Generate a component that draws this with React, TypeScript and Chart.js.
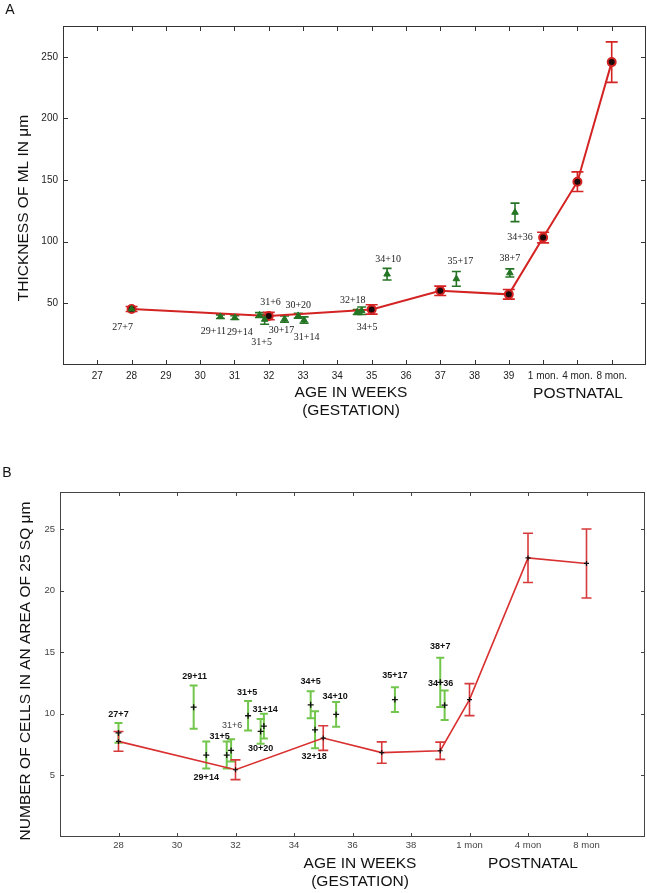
import React, { useEffect, useRef } from 'react';
import { Chart, registerables } from 'chart.js';

Chart.register(...registerables);

// ================= DATA =================
// x values are gestational weeks; postnatal ages sit on the same axis after week 39.

// ---- Panel A: thickness of ML (µm) ----
const aTickValues = [27, 28, 29, 30, 31, 32, 33, 34, 35, 36, 37, 38, 39, 40, 41, 42];
const aTickLabels = ['27', '28', '29', '30', '31', '32', '33', '34', '35', '36', '37', '38', '39', '1 mon.', '4 mon.', '8 mon.'];
const aYTicks = [50, 100, 150, 200, 250];

const aMeanX = [28, 32, 35, 37, 39, 40, 41, 42];
const aMeanY = [45.4, 39.7, 45.1, 60.2, 57.3, 103.4, 148.7, 245.7];
const aMeanErr = [2, 3, 3.8, 3.8, 3.9, 4.3, 8, 16.4];

const aCaseX = [28, 30.59, 31.01, 31.73, 31.88, 32.46, 32.86, 33.03, 34.58, 34.71, 35.45, 37.47, 39.03, 39.18];
const aCaseY = [45.4, 39.2, 38.4, 40.5, 37, 37.3, 40, 36.5, 43, 44, 73.7, 69.9, 74.7, 123.8];
const aCaseErr = [1.5, 1.5, 1.5, 2, 4, 2.5, 2, 2.5, 2, 3, 4.7, 6, 3.3, 7.5];
const aCaseLabels = ['27+7', '29+11', '29+14', '31+6', '31+5', '30+17', '30+20', '31+14', '32+18', '34+5', '34+10', '35+17', '38+7', '34+36'];

// ---- Panel B: number of cells in 25 sq µm ----
const bTickValues = [28, 30, 32, 34, 36, 38, 40, 42, 44];
const bTickLabels = ['28', '30', '32', '34', '36', '38', '1 mon', '4 mon', '8 mon'];
const bYTicks = [5, 10, 15, 20, 25];

const bMeanX = [28, 32, 35, 37, 39, 40, 42, 44];
const bMeanY = [7.76, 5.46, 8.03, 6.85, 7.0, 11.15, 22.65, 22.2];
const bMeanErr = [0.8, 0.8, 1.0, 0.87, 0.7, 1.3, 2.0, 2.8];

const bCaseX = [28, 30.57, 31.0, 31.7, 31.85, 32.43, 32.86, 32.97, 34.57, 34.72, 35.44, 37.45, 39.0, 39.15];
const bCaseY = [8.45, 10.54, 6.65, 6.65, 7.03, 9.84, 8.57, 9.0, 10.73, 8.7, 9.95, 11.15, 12.55, 10.7];
const bCaseErr = [0.8, 1.75, 1.1, 1.1, 0.9, 1.2, 1.0, 1.0, 1.1, 1.5, 1.0, 1.0, 2.0, 1.2];
const bCaseLabels = ['27+7', '29+11', '29+14', '31+5', '31+6', '31+5', '30+20', '31+14', '34+5', '32+18', '34+10', '35+17', '38+7', '34+36'];

// ================= STYLE / LAYOUT =================
const SANS = '"Liberation Sans", Arial, sans-serif';
const SERIF = '"Liberation Serif", "Times New Roman", serif';

// label offsets in pixels from their point (dx, dy)
const aLabelOffsets: [number, number][] = [
  [-9, 18], [-7, 15], [5, 15], [11, -13], [-3, 23], [-3, 11], [0, -10], [2.5, 17],
  [-4.5, -12], [5.4, 17], [1, -15], [4, -17], [0, -15], [5, 25],
];
const bLabelOffsets: [number, number][] = [
  [0, -18], [1, -31], [0, 22], [-7, -19], [1, -25], [-1, -23], [0, 17], [1.3, -17],
  [0, -23], [-1, 27], [-1, -18], [0, -24], [0, -35.5], [-4, -22],
];

type TextItem = { text: string; x: number; y: number; font: string; color: string; rotate?: boolean; align?: CanvasTextAlign };

type DecoCfg = {
  xTicks: number[];
  yTicks: number[];
  tickLen: number;
  frameColor: string;
  labelDataset: number;
  labels: string[];
  offsets: [number, number][];
  labelFont: (i: number) => string;
  labelColor: (i: number) => string;
  texts: TextItem[];
};

function makeDeco(cfg: DecoCfg) {
  return {
    id: 'deco',
    beforeDatasetsDraw(chart: any) {
      const ctx: CanvasRenderingContext2D = chart.ctx;
      const xs = chart.scales.x;
      const ys = chart.scales.y;
      chart.data.datasets.forEach((ds: any) => {
        if (!ds.errorBars) return;
        ctx.save();
        ctx.strokeStyle = ds.errColor;
        ctx.lineWidth = ds.errWidth;
        ds.data.forEach((p: any, i: number) => {
          const e = ds.errorBars[i];
          const px = xs.getPixelForValue(p.x);
          const y1 = ys.getPixelForValue(p.y + e);
          const y2 = ys.getPixelForValue(p.y - e);
          const c = ds.capHalf;
          ctx.beginPath();
          ctx.moveTo(px, y1);
          ctx.lineTo(px, y2);
          ctx.moveTo(px - c, y1);
          ctx.lineTo(px + c, y1);
          ctx.moveTo(px - c, y2);
          ctx.lineTo(px + c, y2);
          ctx.stroke();
        });
        ctx.restore();
      });
    },
    afterDraw(chart: any) {
      const ctx: CanvasRenderingContext2D = chart.ctx;
      const xs = chart.scales.x;
      const ys = chart.scales.y;
      const a = chart.chartArea;
      ctx.save();
      // frame
      ctx.strokeStyle = cfg.frameColor;
      ctx.lineWidth = 1;
      ctx.strokeRect(Math.round(a.left) + 0.5, Math.round(a.top) + 0.5, Math.round(a.right - a.left) - 1, Math.round(a.bottom - a.top) - 1);
      // inward tick marks
      ctx.beginPath();
      cfg.xTicks.forEach((v) => {
        const px = Math.round(xs.getPixelForValue(v)) + 0.5;
        ctx.moveTo(px, a.bottom);
        ctx.lineTo(px, a.bottom - cfg.tickLen);
        ctx.moveTo(px, a.top);
        ctx.lineTo(px, a.top + cfg.tickLen);
      });
      cfg.yTicks.forEach((v) => {
        const py = Math.round(ys.getPixelForValue(v)) + 0.5;
        ctx.moveTo(a.left, py);
        ctx.lineTo(a.left + cfg.tickLen, py);
        ctx.moveTo(a.right, py);
        ctx.lineTo(a.right - cfg.tickLen, py);
      });
      ctx.stroke();
      // point labels
      const meta = chart.getDatasetMeta(cfg.labelDataset);
      ctx.textAlign = 'center';
      ctx.textBaseline = 'middle';
      meta.data.forEach((el: any, i: number) => {
        const [dx, dy] = cfg.offsets[i];
        ctx.font = cfg.labelFont(i);
        ctx.fillStyle = cfg.labelColor(i);
        ctx.fillText(cfg.labels[i], el.x + dx, el.y + dy);
      });
      // titles
      cfg.texts.forEach((t) => {
        ctx.save();
        ctx.font = t.font;
        ctx.fillStyle = t.color;
        ctx.textAlign = t.align || 'center';
        ctx.textBaseline = 'middle';
        ctx.translate(t.x, t.y);
        if (t.rotate) ctx.rotate(-Math.PI / 2);
        ctx.fillText(t.text, 0, 0);
        ctx.restore();
      });
      ctx.restore();
    },
  };
}

function pts(xs: number[], ys: number[]) {
  return xs.map((x, i) => ({ x, y: ys[i] }));
}

const TITLE_FONT = `15.5px ${SANS}`;

function fitX(h: number) {
  return (s: any) => {
    s.height = h;
    s.paddingLeft = 0;
    s.paddingRight = 0;
  };
}
function fitY(w: number) {
  return (s: any) => {
    s.width = w;
    s.paddingTop = 0;
    s.paddingBottom = 0;
  };
}

function configA(): any {
  const deco = makeDeco({
    xTicks: aTickValues,
    yTicks: aYTicks,
    tickLen: 5,
    frameColor: '#333',
    labelDataset: 0,
    labels: aCaseLabels,
    offsets: aLabelOffsets,
    labelFont: () => `10px ${SERIF}`,
    labelColor: () => '#222',
    texts: [
      { text: 'A', x: 10, y: 10, font: `14px ${SANS}`, color: '#111' },
      { text: 'THICKNESS OF ML IN \u03bcm', x: 24, y: 208, font: TITLE_FONT, color: '#111', rotate: true },
      { text: 'AGE IN WEEKS', x: 351, y: 393, font: TITLE_FONT, color: '#111' },
      { text: '(GESTATION)', x: 351, y: 411, font: TITLE_FONT, color: '#111' },
      { text: 'POSTNATAL', x: 578, y: 394, font: TITLE_FONT, color: '#111' },
    ],
  });
  return {
    type: 'scatter',
    data: {
      datasets: [
        {
          label: 'cases',
          data: pts(aCaseX, aCaseY),
          showLine: false,
          pointStyle: 'triangle',
          pointRadius: 3.8,
          backgroundColor: '#237523',
          borderColor: '#237523',
          borderWidth: 1,
          errorBars: aCaseErr,
          errColor: '#267526',
          errWidth: 1.6,
          capHalf: 4.5,
        },
        {
          label: 'mean',
          data: pts(aMeanX, aMeanY),
          showLine: true,
          tension: 0,
          borderColor: '#d42323',
          borderWidth: 2,
          pointStyle: 'circle',
          pointRadius: 4,
          pointBackgroundColor: '#1a0a0a',
          pointBorderColor: '#d42323',
          pointBorderWidth: 2,
          errorBars: aMeanErr,
          errColor: '#d42323',
          errWidth: 1.6,
          capHalf: 6,
        },
      ],
    },
    options: {
      responsive: false,
      animation: false,
      layout: { autoPadding: false, padding: { top: 26, right: 1, left: 0, bottom: 0 } },
      plugins: { legend: { display: false }, tooltip: { enabled: false } },
      scales: {
        x: {
          type: 'linear',
          min: 26,
          max: 43,
          afterBuildTicks: (s: any) => { s.ticks = aTickValues.map((v) => ({ value: v })); },
          afterFit: fitX(75),
          grid: { display: false, drawTicks: false },
          border: { display: false },
          ticks: {
            autoSkip: false,
            maxRotation: 0,
            padding: 5,
            color: '#222',
            font: { family: SANS, size: 10 },
            callback: (v: number) => aTickLabels[aTickValues.indexOf(v)] ?? '',
          },
        },
        y: {
          type: 'linear',
          min: 0,
          max: 275,
          afterBuildTicks: (s: any) => { s.ticks = aYTicks.map((v) => ({ value: v })); },
          afterFit: fitY(63),
          grid: { display: false, drawTicks: false },
          border: { display: false },
          ticks: { padding: 5, color: '#222', font: { family: SANS, size: 10 } },
        },
      },
    },
    plugins: [deco],
  };
}

function configB(): any {
  const deco = makeDeco({
    xTicks: bTickValues,
    yTicks: bYTicks,
    tickLen: 4,
    frameColor: '#444',
    labelDataset: 0,
    labels: bCaseLabels,
    offsets: bLabelOffsets,
    labelFont: (i) => (bCaseLabels[i] === '31+6' ? `9px ${SANS}` : `bold 9px ${SANS}`),
    labelColor: (i) => (bCaseLabels[i] === '31+6' ? '#444' : '#111'),
    texts: [
      { text: 'B', x: 7, y: 33, font: `14px ${SANS}`, color: '#111' },
      { text: 'NUMBER OF CELLS IN AN AREA OF 25 SQ \u03bcm', x: 26, y: 231, font: TITLE_FONT, color: '#111', rotate: true },
      { text: 'AGE IN WEEKS', x: 360, y: 424, font: TITLE_FONT, color: '#111' },
      { text: '(GESTATION)', x: 360, y: 442, font: TITLE_FONT, color: '#111' },
      { text: 'POSTNATAL', x: 533, y: 424, font: TITLE_FONT, color: '#111' },
    ],
  });
  return {
    type: 'scatter',
    data: {
      datasets: [
        {
          label: 'cases',
          data: pts(bCaseX, bCaseY),
          showLine: false,
          pointStyle: 'cross',
          pointRadius: 3,
          borderColor: '#111',
          borderWidth: 1.3,
          errorBars: bCaseErr,
          errColor: '#72c64c',
          errWidth: 2,
          capHalf: 4,
        },
        {
          label: 'mean',
          data: pts(bMeanX, bMeanY),
          showLine: true,
          tension: 0,
          borderColor: '#d93030',
          borderWidth: 1.6,
          pointStyle: 'cross',
          pointRadius: 2.5,
          pointBorderColor: '#111',
          pointBorderWidth: 1.2,
          errorBars: bMeanErr,
          errColor: '#d63a3a',
          errWidth: 1.6,
          capHalf: 5,
        },
      ],
    },
    options: {
      responsive: false,
      animation: false,
      layout: { autoPadding: false, padding: { top: 52, right: 2, left: 0, bottom: 0 } },
      plugins: { legend: { display: false }, tooltip: { enabled: false } },
      scales: {
        x: {
          type: 'linear',
          min: 26,
          max: 46,
          afterBuildTicks: (s: any) => { s.ticks = bTickValues.map((v) => ({ value: v })); },
          afterFit: fitX(56),
          grid: { display: false, drawTicks: false },
          border: { display: false },
          ticks: {
            autoSkip: false,
            maxRotation: 0,
            padding: 3,
            color: '#444',
            font: { family: SANS, size: 9.5 },
            callback: (v: number) => bTickLabels[bTickValues.indexOf(v)] ?? '',
          },
        },
        y: {
          type: 'linear',
          min: 0,
          max: 28,
          afterBuildTicks: (s: any) => { s.ticks = bYTicks.map((v) => ({ value: v })); },
          afterFit: fitY(60),
          grid: { display: false, drawTicks: false },
          border: { display: false },
          ticks: { padding: 5, color: '#444', font: { family: SANS, size: 9.5 } },
        },
      },
    },
    plugins: [deco],
  };
}

function ChartCanvas({ width, height, make }: { width: number; height: number; make: () => any }) {
  const ref = useRef<HTMLCanvasElement>(null);
  useEffect(() => {
    if (!ref.current) return;
    const chart = new Chart(ref.current, make());
    return () => chart.destroy();
  }, [make]);
  return <canvas ref={ref} width={width} height={height} style={{ display: 'block', width, height }} />;
}

export default function App() {
  return (
    <div style={{ position: 'absolute', left: 0, top: 0, width: 647, height: 893, background: '#fff' }}>
      <ChartCanvas width={647} height={440} make={configA} />
      <ChartCanvas width={647} height={453} make={configB} />
    </div>
  );
}
